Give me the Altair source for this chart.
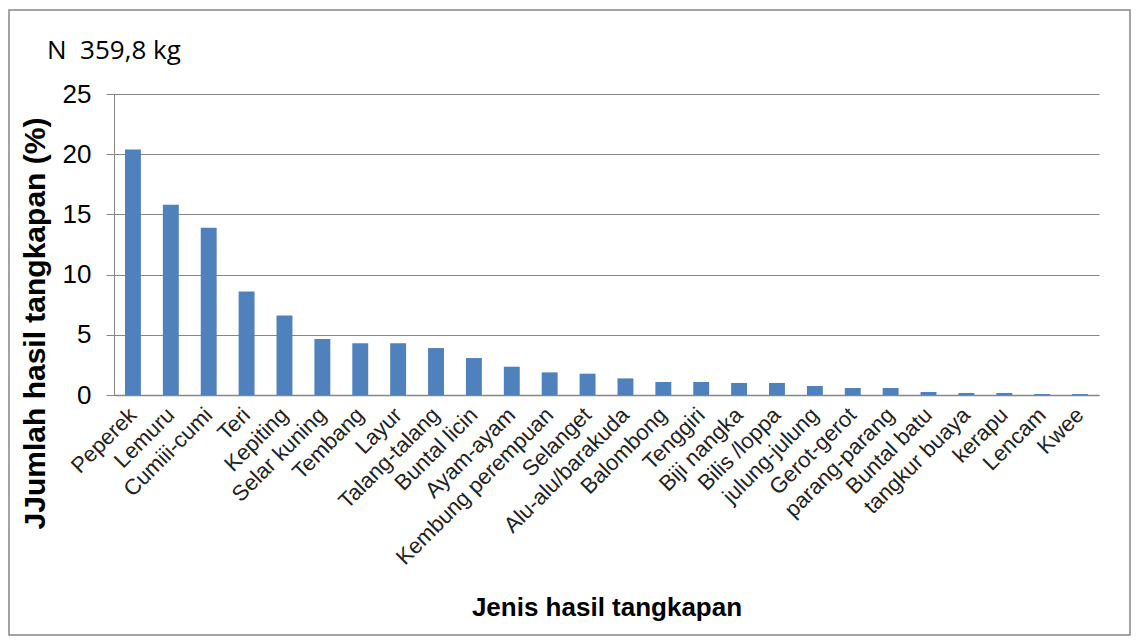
import altair as alt
import pandas as pd

categories = ["Peperek", "Lemuru", "Cumiii-cumi", "Teri", "Kepiting", "Selar kuning",
              "Tembang", "Layur", "Talang-talang", "Buntal licin", "Ayam-ayam",
              "Kembung perempuan", "Selanget", "Alu-alu/barakuda", "Balombong",
              "Tenggiri", "Biji nangka", "Bilis /loppa", "julung-julung", "Gerot-gerot",
              "parang-parang", "Buntal batu", "tangkur buaya", "kerapu", "Lencam", "Kwee"]
values = [20.4, 15.8, 13.9, 8.6, 6.6, 4.65, 4.3, 4.3, 3.9, 3.07, 2.35, 1.88, 1.77,
          1.38, 1.08, 1.08, 1.0, 1.0, 0.75, 0.58, 0.58, 0.25, 0.17, 0.17, 0.08, 0.08]
y_ticks = [0, 5, 10, 15, 20, 25]
note = ["N\u00a0 359,8 kg"]

df = pd.DataFrame({"cat": categories, "val": values})

FONT = "Liberation Sans"

bars = alt.Chart(df).mark_bar(color="#4F81BD").encode(
    x=alt.X("cat:N", sort=None,
            scale=alt.Scale(paddingInner=0.58, paddingOuter=0.29),
            axis=alt.Axis(title="Jenis hasil tangkapan", labelAngle=-45, labelAlign="right",
                          labelBaseline="middle", labelFontSize=22, labelFont=FONT,
                          labelColor="#222222", ticks=False, labelPadding=16, labelLimit=0,
                          domainColor="#868686", domainWidth=1.5,
                          titleFont=FONT, titleFontSize=26, titleFontWeight="bold",
                          titleColor="#000000", titleY=212, titleBaseline="middle")),
    y=alt.Y("val:Q", scale=alt.Scale(domain=[0, 25], nice=False),
            axis=alt.Axis(title="JJumlah hasil tangkapan (%)", values=y_ticks,
                          labelFontSize=26, labelFont=FONT, labelColor="#000000",
                          tickSize=8, tickColor="#868686", labelPadding=15,
                          domainColor="#868686", gridColor="#868686", gridWidth=1,
                          titleFont=FONT, titleFontSize=30, titleFontWeight="bold",
                          titleColor="#000000", titleX=-79, titleY=229,
                          titleAngle=-90, titleAlign="center", titleBaseline="middle")),
)

border = alt.Chart(pd.DataFrame({"a": [0]})).mark_rect(
    fill=None, stroke="#868686", strokeWidth=1.5
).encode(x=alt.value(-105), x2=alt.value(1016), y=alt.value(-84), y2=alt.value(541))

note_text = alt.Chart(pd.DataFrame({"t": note})).mark_text(
    font="Open Sans", fontSize=26, color="#000000", align="left", baseline="alphabetic"
).encode(text="t:N", x=alt.value(-67), y=alt.value(-35))

chart = alt.layer(border, bars, note_text).properties(
    width=985, height=301,
    autosize="none",
    padding={"left": 106, "top": 86, "right": 32, "bottom": 241},
).configure_view(stroke=None).configure_axis(grid=True).configure_axisX(grid=False)

chart.save("out.html", embed_options={"renderer": "svg", "actions": False})
